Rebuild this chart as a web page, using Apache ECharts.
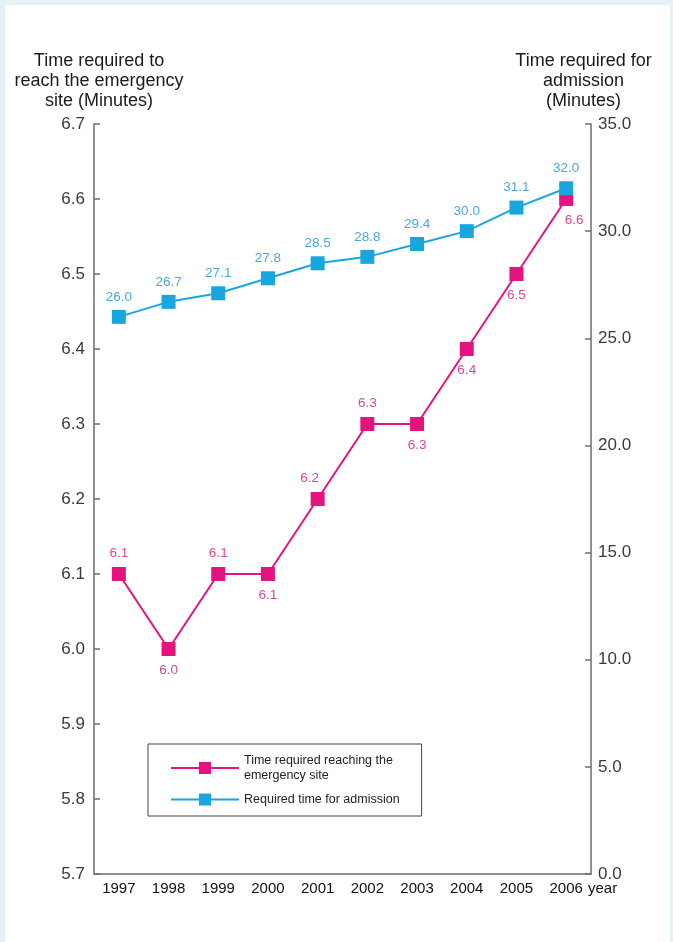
<!DOCTYPE html>
<html>
<head>
<meta charset="utf-8">
<script src="https://cdn.jsdelivr.net/npm/echarts@6/dist/echarts.min.js"></script>
<style>
  html, body { margin: 0; padding: 0; background: #e4f1f7; }
  #main { width: 673px; height: 942px; }
</style>
</head>
<body>
<div id="main"></div>
<script>
var years = ['1997', '1998', '1999', '2000', '2001', '2002', '2003', '2004', '2005', '2006'];
var reachTime = [6.1, 6.0, 6.1, 6.1, 6.2, 6.3, 6.3, 6.4, 6.5, 6.6];
var admissionTime = [26.0, 26.7, 27.1, 27.8, 28.5, 28.8, 29.4, 30.0, 31.1, 32.0];
// where each pink value label sits
var reachLabelPos = ['top', 'bottom', 'top', 'bottom', 'top', 'top', 'bottom', 'bottom', 'bottom', 'bottom'];

var pink = '#e3147f';
var blue = '#19a6df';
var font = '"Liberation Sans", Arial, sans-serif';

var chart = echarts.init(document.getElementById('main'));

chart.setOption({
  backgroundColor: '#e4f1f7',
  textStyle: { fontFamily: font },
  graphic: [{
    type: 'rect',
    z: -10,
    shape: { x: 5, y: 5, width: 665, height: 940 },
    style: { fill: '#ffffff' },
    silent: true
  }],
  grid: { left: 94, right: 82, top: 124, bottom: 68 },
  legend: {
    orient: 'vertical',
    left: 148,
    top: 744,
    padding: [9, 22, 9, 22],
    itemGap: 9,
    itemWidth: 68,
    itemHeight: 15,
    borderColor: '#444',
    borderWidth: 1,
    backgroundColor: '#fff',
    textStyle: { fontSize: 12.5, color: '#222', lineHeight: 15, fontFamily: font },
    data: ['Time required reaching the\nemergency site', 'Required time for admission']
  },
  xAxis: {
    type: 'category',
    data: years,
    boundaryGap: true,
    name: 'year',
    nameLocation: 'end',
    nameGap: -3,
    nameMoveOverlap: false,
    nameTextStyle: { fontSize: 15, color: '#111', align: 'left', verticalAlign: 'top', padding: [7, 0, 0, 0] },
    axisLine: { lineStyle: { color: '#6d6d6d', width: 1.5 } },
    axisTick: { inside: true, length: 6, lineStyle: { color: '#6d6d6d', width: 1.5 } },
    axisLabel: { fontSize: 15, color: '#111', margin: 7 }
  },
  yAxis: [{
    type: 'value',
    min: 5.7,
    max: 6.7,
    interval: 0.1,
    name: 'Time required to\nreach the emergency\nsite (Minutes)',
    nameLocation: 'end',
    nameGap: 13,
    nameMoveOverlap: false,
    nameTextStyle: { fontSize: 18, color: '#1a1a1a', lineHeight: 20, align: 'center', padding: [0, 0, 0, 10] },
    splitLine: { show: false },
    axisLine: { show: true, lineStyle: { color: '#6d6d6d', width: 1.5 } },
    axisTick: { show: true, inside: true, length: 6, lineStyle: { color: '#6d6d6d', width: 1.5 } },
    axisLabel: { fontSize: 17, color: '#3a3a3a', margin: 9, formatter: function (v) { return v.toFixed(1); } }
  }, {
    type: 'value',
    min: 0,
    max: 35,
    interval: 5,
    position: 'right',
    name: 'Time required for\nadmission\n(Minutes)',
    nameLocation: 'end',
    nameGap: 13,
    nameMoveOverlap: false,
    nameTextStyle: { fontSize: 18, color: '#1a1a1a', lineHeight: 20, align: 'center', padding: [0, 15, 0, 0] },
    splitLine: { show: false },
    axisLine: { show: true, lineStyle: { color: '#6d6d6d', width: 1.5 } },
    axisTick: { show: true, inside: true, length: 6, lineStyle: { color: '#6d6d6d', width: 1.5 } },
    axisLabel: { fontSize: 17, color: '#3a3a3a', margin: 7, formatter: function (v) { return v.toFixed(1); } }
  }],
  series: [{
    name: 'Time required reaching the\nemergency site',
    type: 'line',
    yAxisIndex: 0,
    z: 2,
    data: reachTime.map(function (v, i) {
      var lab = { position: reachLabelPos[i] };
      if (i === 9) lab.offset = [8, 0];
      if (i === 4) lab.offset = [-8, 0];
      return { value: v, label: lab };
    }),
    symbol: 'rect',
    symbolSize: 14,
    lineStyle: { color: pink, width: 2 },
    itemStyle: { color: pink },
    label: {
      show: true,
      fontSize: 13.5,
      color: '#d9479a',
      distance: 7,
      formatter: function (p) { return p.value.toFixed(1); }
    }
  }, {
    name: 'Required time for admission',
    type: 'line',
    yAxisIndex: 1,
    z: 3,
    data: admissionTime,
    symbol: 'rect',
    symbolSize: 14,
    lineStyle: { color: blue, width: 2 },
    itemStyle: { color: blue },
    label: {
      show: true,
      position: 'top',
      fontSize: 13.5,
      color: '#4aa9d9',
      distance: 6,
      formatter: function (p) { return p.value.toFixed(1); }
    }
  }]
});
</script>
</body>
</html>
